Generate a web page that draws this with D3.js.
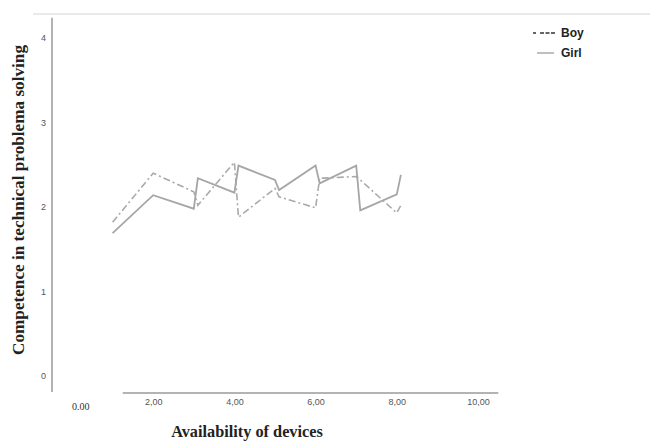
<!DOCTYPE html>
<html>
<head>
<meta charset="utf-8">
<script src="https://cdn.jsdelivr.net/npm/d3@7"></script>
<style>
  body { margin: 0; background: #fff; }
  svg { display: block; }
</style>
</head>
<body>
<svg id="chart" width="650" height="441"></svg>
<script>
// values
const devices = [1, 2, 3, 3.1, 4, 4.1, 5, 5.1, 6, 6.1, 7, 7.1, 8, 8.1];
const girl = [1.69, 2.14, 1.98, 2.34, 2.17, 2.49, 2.32, 2.20, 2.49, 2.28, 2.49, 1.96, 2.15, 2.38];
const boy = [1.82, 2.40, 2.18, 2.02, 2.53, 1.88, 2.22, 2.12, 1.99, 2.34, 2.36, 2.32, 1.93, 2.02];
const xTicks = [2, 4, 6, 8, 10];
const yTicks = [0, 1, 2, 3, 4];

const svg = d3.select("#chart");

const x = d3.scaleLinear().domain([0, 10]).range([72, 478]);
const y = d3.scaleLinear().domain([0, 4]).range([376, 38]);

// faint rule across the top
svg.append("line")
    .attr("x1", 33).attr("x2", 650)
    .attr("y1", 14).attr("y2", 14)
    .attr("stroke", "#e2e2e2")
    .attr("stroke-width", 1.5);

// y axis
const yAxis = svg.append("g")
    .attr("transform", "translate(52,0)")
    .call(d3.axisLeft(y).tickValues(yTicks).tickSize(0).tickPadding(6).tickFormat(d3.format("d")));
yAxis.select(".domain").remove();
yAxis.selectAll("text")
    .attr("font-family", "Liberation Sans, Arial, sans-serif")
    .attr("font-size", 9)
    .attr("fill", "#555");
svg.append("line")
    .attr("x1", 52).attr("x2", 52)
    .attr("y1", y(4.24)).attr("y2", y(-0.19))
    .attr("stroke", "#9a9a9a")
    .attr("stroke-width", 1.5);

// x axis
const xAxis = svg.append("g")
    .attr("transform", "translate(0,393)")
    .call(d3.axisBottom(x).tickValues(xTicks).tickSize(0).tickPadding(6)
        .tickFormat(d => d3.format(".2f")(d).replace(".", ",")));
xAxis.select(".domain").remove();
xAxis.selectAll("text")
    .attr("font-family", "Liberation Sans, Arial, sans-serif")
    .attr("font-size", 9)
    .attr("fill", "#555");
svg.append("line")
    .attr("x1", x(1.25)).attr("x2", x(10.5))
    .attr("y1", 393).attr("y2", 393)
    .attr("stroke", "#9a9a9a")
    .attr("stroke-width", 1.5);

svg.append("text")
    .attr("x", 72).attr("y", 410)
    .attr("font-family", "Liberation Serif, Times New Roman, serif")
    .attr("font-size", 10)
    .attr("fill", "#333")
    .text("0.00");

// axis titles
svg.append("text")
    .attr("transform", "translate(24,200) rotate(-90)")
    .attr("text-anchor", "middle")
    .attr("font-family", "Liberation Serif, Times New Roman, serif")
    .attr("font-weight", "bold")
    .attr("font-size", 17.2)
    .attr("fill", "#222")
    .text("Competence in technical problema solving");

svg.append("text")
    .attr("x", 247).attr("y", 437)
    .attr("text-anchor", "middle")
    .attr("font-family", "Liberation Serif, Times New Roman, serif")
    .attr("font-weight", "bold")
    .attr("font-size", 16.3)
    .attr("fill", "#222")
    .text("Availability of devices");

// lines
const line = d3.line()
    .x((d, i) => x(devices[i]))
    .y(d => y(d));

svg.append("path")
    .datum(boy)
    .attr("fill", "none")
    .attr("stroke", "#aaaaaa")
    .attr("stroke-width", 1.6)
    .attr("stroke-dasharray", "7,3,2,3")
    .attr("d", line);

svg.append("path")
    .datum(girl)
    .attr("fill", "none")
    .attr("stroke", "#a6a6a6")
    .attr("stroke-width", 1.8)
    .attr("d", line);

// legend
const legend = svg.append("g");
legend.append("line")
    .attr("x1", 533).attr("x2", 555)
    .attr("y1", 33).attr("y2", 33)
    .attr("stroke", "#333")
    .attr("stroke-width", 1.5)
    .attr("stroke-dasharray", "3,4,4,1.5,4,1.5,4");
legend.append("line")
    .attr("x1", 537).attr("x2", 554)
    .attr("y1", 53).attr("y2", 53)
    .attr("stroke", "#aaa")
    .attr("stroke-width", 1.5);
legend.selectAll(".lab")
    .data(["Boy", "Girl"])
    .enter()
    .append("text")
    .attr("x", 561)
    .attr("y", (d, i) => 37 + i * 20)
    .attr("font-family", "Liberation Sans, Arial, sans-serif")
    .attr("font-weight", "bold")
    .attr("font-size", 12)
    .attr("fill", "#222")
    .text(d => d);
</script>
</body>
</html>
